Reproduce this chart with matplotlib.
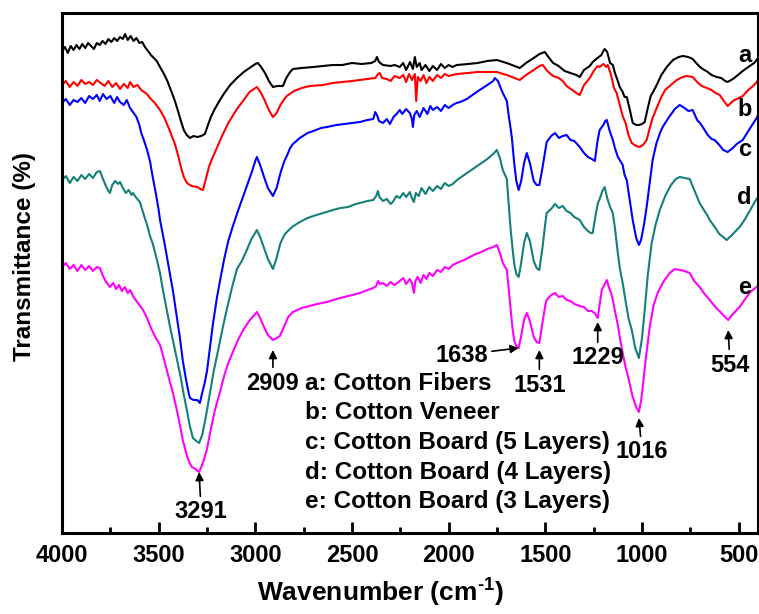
import numpy as np
import matplotlib
matplotlib.use('Agg')
import matplotlib.pyplot as plt
from matplotlib.ticker import MultipleLocator

#** DADOS (eixo y em unidades arbitrárias) **
wn_a = [4000, 3985, 3970, 3955, 3940, 3925, 3910, 3895, 3880, 3865, 3850, 3835, 3820, 3805, 3790,
        3775, 3760, 3745, 3730, 3715, 3700, 3685, 3674, 3660, 3645, 3630, 3615, 3600, 3585, 3571,
        3555, 3540, 3525, 3510, 3493, 3475, 3455, 3435, 3416, 3400, 3385, 3370, 3355, 3338, 3320,
        3300, 3280, 3261, 3245, 3230, 3210, 3183, 3160, 3130, 3095, 3060, 3030, 3000, 2987, 2970,
        2950, 2930, 2909, 2885, 2857, 2840, 2820, 2806, 2760, 2700, 2650, 2600, 2550, 2500, 2450,
        2400, 2380, 2371, 2360, 2340, 2300, 2280, 2253, 2235, 2220, 2200, 2185, 2175, 2165, 2150,
        2140, 2120, 2100, 2082, 2060, 2040, 2020, 2000, 1980, 1958, 1900, 1850, 1800, 1751, 1700,
        1660, 1632, 1600, 1560, 1530, 1503, 1480, 1460, 1440, 1425, 1400, 1370, 1340, 1322, 1300,
        1270, 1255, 1230, 1210, 1200, 1193, 1180, 1165, 1151, 1140, 1125, 1115, 1100, 1090, 1079,
        1065, 1048, 1030, 1016, 1000, 986, 970, 955, 940, 924, 900, 872, 840, 810, 789,
        760, 738, 720, 700, 686, 660, 640, 614, 590, 570, 557, 530, 510, 479, 450,
        420, 407, 400]
t_a = [482, 486, 480, 487, 483, 488, 484, 489, 485, 490, 487, 484, 490, 488, 492,
       489, 494, 491, 495, 492, 496, 494, 499, 493, 497, 492, 495, 490, 491, 486,
       482, 478, 475, 472, 466, 460, 452, 442, 432, 422, 412, 403, 398, 395, 397,
       396, 397, 399, 408, 416, 424, 433, 440, 448, 455, 461, 465, 469, 470, 466,
       460, 452, 446, 447, 447, 455, 461, 464, 465, 466, 467, 468, 468, 470, 469,
       470, 472, 476, 471, 468, 467, 468, 466, 470, 463, 471, 464, 476, 466, 470,
       463, 468, 462, 467, 463, 469, 465, 468, 466, 468, 469, 470, 472, 473, 470,
       467, 465, 470, 475, 479, 481, 475, 470, 468, 466, 462, 460, 458, 456, 463,
       467, 471, 475, 478, 482, 484, 481, 470, 468, 460, 452, 446, 441, 436, 436,
       425, 410, 408, 408, 409, 411, 425, 437, 442, 448, 458, 466, 473, 476, 477,
       476, 474, 470, 466, 464, 461, 458, 456, 455, 452, 451, 454, 457, 462, 466,
       470, 473, 475]

wn_b = [4000, 3980, 3960, 3940, 3920, 3900, 3880, 3860, 3840, 3820, 3800, 3780, 3760, 3740, 3720,
        3700, 3680, 3660, 3648, 3630, 3610, 3590, 3575, 3561, 3540, 3520, 3493, 3470, 3450, 3430,
        3416, 3400, 3385, 3370, 3354, 3330, 3300, 3285, 3271, 3255, 3240, 3220, 3199, 3170, 3140,
        3095, 3060, 3030, 2992, 2970, 2950, 2930, 2909, 2890, 2870, 2850, 2837, 2800, 2760, 2718,
        2650, 2600, 2550, 2500, 2459, 2420, 2380, 2365, 2356, 2345, 2320, 2300, 2280, 2253, 2235,
        2220, 2205, 2190, 2175, 2168, 2160, 2145, 2130, 2115, 2100, 2082, 2060, 2040, 2020, 2000,
        1958, 1900, 1850, 1800, 1751, 1700, 1660, 1632, 1600, 1560, 1530, 1513, 1490, 1460, 1430,
        1410, 1390, 1360, 1340, 1322, 1300, 1270, 1250, 1230, 1219, 1200, 1185, 1177, 1160, 1145,
        1131, 1115, 1100, 1085, 1070, 1053, 1030, 1012, 995, 976, 960, 945, 924, 900, 880,
        857, 820, 790, 769, 738, 710, 690, 665, 640, 620, 598, 580, 557, 530, 510,
        479, 450, 420, 407, 400]
t_b = [448, 452, 446, 451, 447, 453, 449, 451, 448, 453, 450, 447, 452, 446, 450,
       444, 449, 445, 451, 446, 448, 443, 441, 439, 434, 430, 423, 415, 406, 396,
       389, 378, 366, 356, 350, 347, 346, 344, 343, 355, 366, 376, 385, 398, 410,
       424, 433, 441, 446, 440, 432, 423, 416, 420, 428, 434, 437, 442, 445, 447,
       448, 450, 451, 452, 453, 454, 455, 459, 460, 455, 454, 452, 457, 455, 458,
       451, 459, 453, 459, 432, 456, 452, 458, 450, 456, 452, 458, 455, 459, 457,
       459, 460, 461, 461, 461, 458, 455, 453, 458, 463, 467, 468, 462, 457, 455,
       452, 447, 443, 440, 438, 448, 455, 462, 467, 466, 469, 466, 468, 458, 445,
       440, 428, 417, 410, 398, 390, 387, 386, 388, 393, 405, 415, 425, 436, 443,
       447, 453, 456, 457, 456, 450, 447, 445, 443, 440, 438, 433, 427, 432, 434,
       437, 443, 448, 451, 453]

wn_c = [4000, 3980, 3960, 3940, 3920, 3900, 3880, 3860, 3840, 3820, 3805, 3788, 3770, 3750, 3730,
        3715, 3700, 3680, 3665, 3648, 3630, 3615, 3600, 3590, 3575, 3560, 3545, 3530, 3515, 3500,
        3493, 3470, 3450, 3426, 3405, 3390, 3375, 3360, 3345, 3338, 3320, 3300, 3287, 3275, 3262,
        3250, 3235, 3220, 3199, 3180, 3160, 3140, 3116, 3090, 3070, 3044, 3020, 3000, 2992, 2975,
        2955, 2935, 2909, 2890, 2870, 2850, 2837, 2820, 2806, 2770, 2730, 2700, 2660, 2630, 2580,
        2540, 2500, 2459, 2420, 2390, 2380, 2371, 2360, 2340, 2320, 2304, 2285, 2265, 2253, 2240,
        2220, 2201, 2190, 2185, 2178, 2165, 2150, 2130, 2110, 2095, 2082, 2060, 2040, 2020, 2000,
        1979, 1960, 1940, 1906, 1870, 1840, 1800, 1770, 1761, 1745, 1735, 1720, 1699, 1690, 1680,
        1673, 1660, 1650, 1638, 1625, 1610, 1596, 1580, 1560, 1545, 1531, 1515, 1500, 1493, 1470,
        1450, 1430, 1410, 1390, 1370, 1350, 1322, 1300, 1280, 1260, 1244, 1230, 1219, 1200, 1190,
        1182, 1170, 1160, 1151, 1140, 1125, 1115, 1100, 1090, 1079, 1065, 1048, 1030, 1016, 1005,
        990, 976, 960, 945, 925, 905, 893, 860, 830, 805, 780, 760, 738, 715, 700,
        686, 660, 640, 624, 600, 580, 557, 530, 510, 479, 450, 420, 407, 400]
t_c = [430, 434, 428, 433, 431, 435, 430, 437, 434, 438, 432, 439, 434, 437, 430,
       436, 431, 428, 433, 425, 420, 416, 408, 400, 392, 383, 372, 355, 340, 323,
       313, 290, 268, 242, 215, 195, 172, 155, 140, 135, 133, 133, 130, 140, 150,
       162, 185, 208, 235, 255, 275, 292, 307, 322, 333, 347, 360, 372, 376, 368,
       356, 345, 337, 345, 360, 372, 377, 385, 389, 395, 400, 402, 405, 406, 408,
       409, 410, 411, 413, 414, 421, 418, 412, 410, 414, 409, 416, 420, 423, 419,
       424, 420, 414, 406, 418, 422, 416, 425, 419, 427, 423, 426, 422, 428, 425,
       428, 430, 431, 434, 439, 443, 448, 452, 455, 452, 447, 440, 432, 418, 405,
       395, 368, 352, 343, 352, 370, 380, 370, 352, 348, 348, 365, 383, 391, 397,
       400, 395, 397, 398, 393, 392, 386, 380, 376, 374, 372, 392, 403, 408, 412,
       413, 404, 398, 393, 385, 376, 373, 368, 358, 353, 335, 313, 295, 288, 293,
       308, 326, 350, 373, 390, 401, 406, 416, 424, 428, 425, 422, 423, 413, 410,
       406, 398, 394, 393, 388, 383, 381, 385, 389, 393, 402, 411, 415, 418]

wn_d = [4000, 3980, 3960, 3940, 3920, 3900, 3880, 3860, 3840, 3820, 3804, 3790, 3775, 3760, 3752,
        3740, 3725, 3710, 3700, 3685, 3670, 3655, 3640, 3633, 3615, 3597, 3580, 3560, 3545, 3530,
        3510, 3493, 3478, 3460, 3440, 3420, 3405, 3385, 3370, 3354, 3340, 3323, 3305, 3291, 3275,
        3260, 3248, 3235, 3215, 3190, 3168, 3140, 3116, 3095, 3070, 3044, 3020, 2992, 2975, 2955,
        2935, 2909, 2890, 2870, 2850, 2837, 2810, 2770, 2730, 2700, 2650, 2599, 2560, 2520, 2480,
        2459, 2420, 2390, 2375, 2366, 2358, 2340, 2320, 2300, 2289, 2270, 2253, 2235, 2220, 2201,
        2190, 2180, 2170, 2155, 2140, 2120, 2100, 2082, 2060, 2040, 2020, 2000, 1979, 1950, 1920,
        1890, 1860, 1830, 1800, 1770, 1751, 1735, 1720, 1699, 1690, 1680, 1670, 1660, 1650, 1638,
        1625, 1610, 1596, 1580, 1560, 1545, 1531, 1515, 1500, 1493, 1470, 1450, 1430, 1410, 1390,
        1370, 1350, 1322, 1300, 1280, 1265, 1255, 1240, 1228, 1219, 1205, 1193, 1180, 1165, 1151,
        1140, 1125, 1115, 1100, 1085, 1070, 1053, 1035, 1016, 1000, 986, 970, 950, 930, 908,
        880, 850, 825, 805, 780, 753, 730, 715, 702, 680, 660, 650, 620, 600, 580,
        562, 540, 520, 495, 470, 440, 417, 400]
t_d = [353, 357, 350, 356, 352, 358, 354, 359, 355, 361, 362, 355, 348, 342, 340,
       348, 352, 349, 351, 345, 340, 343, 338, 340, 335, 331, 320, 308, 297, 289,
       274, 260, 243, 225, 205, 187, 173, 155, 138, 123, 108, 95, 92, 90, 98,
       112, 125, 140, 162, 185, 206, 230, 249, 264, 272, 283, 294, 303, 296, 285,
       274, 264, 275, 290, 298, 301, 306, 311, 315, 317, 320, 323, 325, 326, 329,
       330, 332, 333, 337, 342, 336, 332, 334, 329, 331, 337, 335, 340, 336, 341,
       335, 331, 340, 337, 345, 339, 346, 342, 347, 344, 350, 347, 349, 354, 358,
       362, 366, 370, 374, 379, 383, 375, 363, 354, 330, 305, 285, 268, 259, 256,
       270, 290, 300, 292, 272, 265, 263, 285, 310, 320, 324, 329, 325, 327, 322,
       320, 316, 313, 306, 302, 300, 300, 318, 330, 334, 342, 346, 335, 326, 320,
       305, 280, 265, 250, 232, 215, 203, 185, 175, 195, 223, 258, 290, 308, 323,
       337, 348, 354, 356, 355, 354, 343, 336, 330, 323, 317, 313, 305, 299, 296,
       293, 297, 301, 306, 313, 323, 331, 336]

wn_e = [4000, 3980, 3960, 3940, 3920, 3900, 3880, 3860, 3840, 3820, 3804, 3790, 3775, 3760, 3752,
        3735, 3720, 3705, 3690, 3675, 3660, 3648, 3630, 3615, 3600, 3581, 3560, 3540, 3520, 3493,
        3470, 3450, 3426, 3405, 3390, 3374, 3355, 3340, 3328, 3310, 3291, 3275, 3260, 3250, 3230,
        3210, 3183, 3160, 3140, 3116, 3090, 3060, 3028, 3010, 2992, 2975, 2955, 2935, 2909, 2890,
        2873, 2850, 2830, 2806, 2760, 2720, 2680, 2630, 2580, 2540, 2500, 2459, 2420, 2390, 2375,
        2365, 2356, 2340, 2320, 2300, 2280, 2253, 2235, 2220, 2201, 2190, 2180, 2172, 2160, 2145,
        2130, 2115, 2100, 2082, 2060, 2040, 2020, 2000, 1979, 1958, 1920, 1890, 1860, 1830, 1800,
        1770, 1751, 1735, 1720, 1699, 1690, 1680, 1670, 1660, 1650, 1638, 1625, 1610, 1596, 1580,
        1560, 1545, 1531, 1515, 1500, 1493, 1470, 1450, 1430, 1410, 1390, 1370, 1350, 1322, 1300,
        1280, 1260, 1245, 1229, 1218, 1208, 1195, 1182, 1170, 1160, 1151, 1140, 1125, 1115, 1100,
        1085, 1074, 1060, 1048, 1030, 1016, 1005, 996, 980, 960, 940, 919, 890, 857, 830,
        805, 780, 753, 730, 702, 680, 650, 620, 590, 570, 554, 535, 515, 495, 470,
        440, 420, 407, 400]
t_e = [266, 270, 264, 268, 262, 268, 263, 267, 262, 266, 265, 258, 252, 248, 246,
       250, 244, 248, 242, 246, 240, 243, 236, 232, 228, 223, 215, 205, 197, 188,
       172, 157, 140, 122, 108, 92, 78, 70, 66, 64, 61, 68, 77, 84, 104,
       122, 141, 158, 170, 181, 193, 204, 213, 217, 221, 215, 206, 198, 193, 195,
       197, 207, 216, 221, 225, 227, 229, 231, 234, 236, 238, 240, 243, 245, 247,
       252, 249, 250, 247, 251, 248, 252, 255, 249, 254, 250, 240, 252, 256, 250,
       258, 254, 260, 257, 263, 261, 266, 264, 268, 270, 273, 276, 279, 281, 284,
       286, 288, 280, 270, 263, 245, 225, 205, 192, 187, 185, 197, 213, 220, 212,
       196, 191, 190, 210, 228, 233, 238, 240, 236, 237, 233, 232, 229, 227, 226,
       222, 222, 220, 215, 230, 243, 248, 253, 245, 240, 233, 222, 208, 196, 180,
       166, 158, 146, 136, 126, 121, 132, 146, 175, 206, 228, 240, 251, 260, 264,
       263, 262, 260, 252, 246, 240, 233, 226, 220, 216, 213, 218, 222, 226, 233,
       241, 244, 246, 248]

series = [(wn_a, t_a, 'black'), (wn_b, t_b, '#ff0000'), (wn_c, t_c, '#0000ff'),
          (wn_d, t_d, '#148078'), (wn_e, t_e, '#ff00ff')]

letras = ['a', 'b', 'c', 'd', 'e']
letras_y = [478, 423, 383, 335, 246]

legenda = ['a: Cotton Fibers', 'b: Cotton Veneer', 'c: Cotton Board (5 Layers)',
           'd: Cotton Board (4 Layers)', 'e: Cotton Board (3 Layers)']

# picos marcados: (rótulo, x da seta, y da seta, x do texto, y do texto)
picos = [('3291', 3291, 61, 3280, 21), ('2909', 2909, 183, 2909, 150),
         ('1531', 1531, 183, 1531, 148), ('1229', 1229, 211, 1229, 175),
         ('1016', 1016, 115, 1000, 81), ('554', 554, 203, 545, 168)]

#** ESTILO **
plt.rcParams['font.family'] = ['Liberation Sans', 'DejaVu Sans']
plt.rcParams['font.weight'] = 'bold'
plt.rcParams['axes.labelweight'] = 'bold'
plt.rcParams['mathtext.fontset'] = 'custom'
plt.rcParams['mathtext.bf'] = 'Liberation Sans:bold'
plt.rcParams['mathtext.rm'] = 'Liberation Sans:bold'
plt.rcParams['mathtext.default'] = 'bf'

fig = plt.figure(figsize=(7.59, 6.14), dpi=100)
ax = fig.add_axes([62 / 759, 1 - 533 / 614, 696 / 759, 520 / 614])

for wn, t, cor in series:
    ax.plot(wn, t, color=cor, lw=1.5)

ax.set_xlim(4000, 400)
ax.set_ylim(0, 520)

for i in range(5):
    ax.text(469, letras_y[i], letras[i], fontsize=17, ha='center', va='center')

for i in range(5):
    ax.text(2744, 150 - 29.7 * i, legenda[i], fontsize=17.5, ha='left', va='center')

seta = dict(arrowstyle='-|>', color='black', lw=1.2, mutation_scale=12, shrinkA=1, shrinkB=0)
for rot, xs, ys, xt, yt in picos:
    ax.annotate(rot, xy=(xs, ys), xytext=(xt, yt), fontsize=17, ha='center', va='center',
                arrowprops=seta)
ax.annotate('1638', xy=(1638, 185), xytext=(1798, 178), fontsize=17, ha='right', va='center',
            arrowprops=seta)

ax.xaxis.set_major_locator(MultipleLocator(500))
ax.xaxis.set_minor_locator(MultipleLocator(250))
ax.set_yticks([])
ax.tick_params(axis='x', which='major', direction='in', length=8, width=2, labelsize=17, pad=8)
ax.tick_params(axis='x', which='minor', direction='in', length=4, width=2)
for sp in ax.spines.values():
    sp.set_linewidth(2.2)

ax.set_xlabel('Wavenumber (cm$^{\\text{-}1}$)', fontsize=19)
ax.set_ylabel('Transmittance (%)', fontsize=17.5)
ax.xaxis.set_label_coords(0.458, -0.084)
ax.yaxis.set_label_coords(-0.038, 0.531)

fig.savefig('out.png', dpi=100)
